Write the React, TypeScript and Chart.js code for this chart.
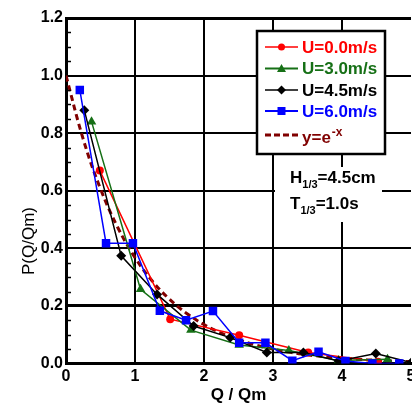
import { useEffect, useRef } from 'react';
import { Chart, registerables } from 'chart.js';

Chart.register(...registerables);

// ---- data ----
const xU00 = [0.49, 1.51, 2.51, 3.51, 4.52];
const yU00 = [0.67, 0.154, 0.098, 0.038, 0.006];

const xU30 = [0.37, 1.08, 1.81, 2.51, 3.23, 3.95, 4.66];
const yU30 = [0.84, 0.258, 0.116, 0.064, 0.045, 0.01, 0.015];

const xU45 = [0.265, 0.8, 1.32, 1.85, 2.38, 2.91, 3.44, 3.95, 4.49, 5.0];
const yU45 = [0.88, 0.374, 0.24, 0.13, 0.09, 0.038, 0.038, 0.009, 0.035, 0.003];

const xU60 = [0.2, 0.58, 0.97, 1.36, 1.74, 2.13, 2.51, 2.89, 3.28, 3.66, 4.05, 4.44, 4.83];
const yU60 = [0.95, 0.418, 0.418, 0.183, 0.15, 0.182, 0.072, 0.072, 0.01, 0.041, 0.009, 0.0, 0.0];

// y = e^-x reference curve (tabulated)
const xExp = [0, 0.25, 0.5, 0.75, 1, 1.25, 1.5, 1.75, 2, 2.25, 2.5, 2.75, 3, 3.25, 3.5, 3.75, 4, 4.25, 4.5, 4.75, 5];
const yExp = [1, 0.7788, 0.6065, 0.4724, 0.3679, 0.2865, 0.2231, 0.1738, 0.1353, 0.1054, 0.0821, 0.0639, 0.0498, 0.0388, 0.0302, 0.0235, 0.0183, 0.0143, 0.0111, 0.0087, 0.0067];

const seriesLabels = ['U=0.0m/s', 'U=3.0m/s', 'U=4.5m/s', 'U=6.0m/s'];
const xTicks = [0, 1, 2, 3, 4, 5];
const yTicks = [0, 0.2, 0.4, 0.6, 0.8, 1.0, 1.2];

const RED = '#ff0000';
const GREEN = '#167016';
const BLACK = '#000000';
const BLUE = '#0000ff';
const MAROON = '#800000';
const FONT = '"Liberation Sans", Arial, sans-serif';

const zip = (xs: number[], ys: number[]) => xs.map((x, i) => ({ x, y: ys[i] }));

function drawMarker(ctx: CanvasRenderingContext2D, style: string, x: number, y: number, r: number, color: string) {
  ctx.save();
  ctx.fillStyle = color;
  ctx.beginPath();
  if (style === 'circle') {
    ctx.arc(x, y, r, 0, Math.PI * 2);
  } else if (style === 'triangle') {
    ctx.moveTo(x, y - r);
    ctx.lineTo(x + r, y + r * 0.75);
    ctx.lineTo(x - r, y + r * 0.75);
    ctx.closePath();
  } else if (style === 'rectRot') {
    ctx.moveTo(x, y - r);
    ctx.lineTo(x + r, y);
    ctx.lineTo(x, y + r);
    ctx.lineTo(x - r, y);
    ctx.closePath();
  } else {
    ctx.rect(x - r, y - r, 2 * r, 2 * r);
  }
  ctx.fill();
  ctx.restore();
}

const overlayPlugin = {
  id: 'overlay',
  beforeDatasetsDraw(chart: any) {
    const ctx: CanvasRenderingContext2D = chart.ctx;
    ctx.save();
    ctx.fillStyle = '#fff';
    ctx.fillRect(275, 167, 107, 55);
    ctx.restore();
  },
  afterDraw(chart: any) {
    const ctx: CanvasRenderingContext2D = chart.ctx;
    const ys = chart.scales.y;
    const area = chart.chartArea;
    ctx.save();
    // minor ticks on y axis (inside)
    ctx.strokeStyle = '#000';
    ctx.lineWidth = 1.5;
    for (let i = 0; i <= 24; i++) {
      if (i % 4 === 0) continue;
      const py = Math.round(ys.getPixelForValue(i * 0.05)) + 0.5;
      ctx.beginPath();
      ctx.moveTo(area.left, py);
      ctx.lineTo(area.left + 5, py);
      ctx.stroke();
    }

    // y axis title
    ctx.save();
    ctx.translate(34, 241);
    ctx.rotate(-Math.PI / 2);
    ctx.fillStyle = '#000';
    ctx.font = `17px ${FONT}`;
    ctx.textAlign = 'center';
    ctx.textBaseline = 'alphabetic';
    ctx.fillText('P(Q/Qm)', 0, 0);
    ctx.restore();

    // legend box
    const bx = 257, by = 31, bw = 128, bh = 123;
    ctx.fillStyle = '#fff';
    ctx.fillRect(bx, by, bw, bh);
    ctx.strokeStyle = '#000';
    ctx.lineWidth = 2.5;
    ctx.strokeRect(bx, by, bw, bh);

    const rows = [
      { label: seriesLabels[0], color: RED, style: 'circle', r: 3.5, lw: 1.5 },
      { label: seriesLabels[1], color: GREEN, style: 'triangle', r: 4.5, lw: 2 },
      { label: seriesLabels[2], color: BLACK, style: 'rectRot', r: 4.5, lw: 1.5 },
      { label: seriesLabels[3], color: BLUE, style: 'rect', r: 4, lw: 2 },
    ];
    const rowY = [47, 68.5, 90, 111];
    rows.forEach((row, i) => {
      const y = rowY[i];
      ctx.strokeStyle = row.color;
      ctx.lineWidth = row.lw;
      ctx.beginPath();
      ctx.moveTo(265, y);
      ctx.lineTo(298, y);
      ctx.stroke();
      drawMarker(ctx, row.style, 281.5, y, row.r, row.color);
      ctx.fillStyle = row.color;
      ctx.font = `bold 17px ${FONT}`;
      ctx.textAlign = 'left';
      ctx.textBaseline = 'middle';
      ctx.fillText(row.label, 302, y + 1);
    });
    // e^-x row
    ctx.strokeStyle = MAROON;
    ctx.lineWidth = 3;
    ctx.setLineDash([6, 3]);
    ctx.beginPath();
    ctx.moveTo(265, 135);
    ctx.lineTo(299, 135);
    ctx.stroke();
    ctx.setLineDash([]);
    ctx.fillStyle = MAROON;
    ctx.font = `bold 17px ${FONT}`;
    ctx.textBaseline = 'alphabetic';
    ctx.textAlign = 'left';
    ctx.fillText('y=e', 302, 143);
    const w = ctx.measureText('y=e').width;
    ctx.font = `bold 12px ${FONT}`;
    ctx.fillText('-x', 302 + w + 1, 136);

    // annotation text
    ctx.fillStyle = '#000';
    const drawSub = (main: string, sub: string, rest: string, x: number, y: number) => {
      ctx.font = `bold 17px ${FONT}`;
      ctx.fillText(main, x, y);
      let cx = x + ctx.measureText(main).width;
      ctx.font = `bold 11px ${FONT}`;
      ctx.fillText(sub, cx, y + 5);
      cx += ctx.measureText(sub).width;
      ctx.font = `bold 17px ${FONT}`;
      ctx.fillText(rest, cx, y);
    };
    drawSub('H', '1/3', '=4.5cm', 290, 183);
    drawSub('T', '1/3', '=1.0s', 290, 208.5);
    ctx.restore();
  },
};

export default function App() {
  const ref = useRef<HTMLCanvasElement>(null);
  useEffect(() => {
    document.body.style.margin = '0';
    const canvas = ref.current!;
    const near = (a: number, b: number) => Math.abs(a - b) < 1e-6;
    const chart = new Chart(canvas, {
      type: 'scatter',
      data: {
        datasets: [
          {
            label: seriesLabels[3],
            data: zip(xU60, yU60),
            showLine: true,
            borderColor: BLUE,
            backgroundColor: BLUE,
            borderWidth: 1.5,
            pointStyle: 'rect',
            pointRadius: 6,
            pointBorderWidth: 0,
            order: 1,
          },
          {
            label: seriesLabels[2],
            data: zip(xU45, yU45),
            showLine: true,
            borderColor: BLACK,
            backgroundColor: BLACK,
            borderWidth: 1.5,
            pointStyle: 'rectRot',
            pointRadius: 5,
            pointBorderWidth: 0,
            order: 2,
          },
          {
            label: seriesLabels[1],
            data: zip(xU30, yU30),
            showLine: true,
            borderColor: GREEN,
            backgroundColor: GREEN,
            borderWidth: 1.5,
            pointStyle: 'triangle',
            pointRadius: 5.5,
            pointBorderWidth: 0,
            order: 3,
          },
          {
            label: seriesLabels[0],
            data: zip(xU00, yU00),
            showLine: true,
            borderColor: RED,
            backgroundColor: RED,
            borderWidth: 1.5,
            pointStyle: 'circle',
            pointRadius: 4,
            pointBorderWidth: 0,
            order: 4,
          },
          {
            label: 'y=e^-x',
            data: zip(xExp, yExp),
            showLine: true,
            borderColor: MAROON,
            backgroundColor: MAROON,
            borderWidth: 3,
            borderDash: [6, 4],
            pointRadius: 0,
            tension: 0.4,
            order: 5,
          },
        ],
      },
      options: {
        responsive: false,
        animation: false,
        devicePixelRatio: 1,
        layout: { autoPadding: false, padding: { top: 18, right: 1, left: 0, bottom: 0 } },
        plugins: {
          legend: { display: false },
          tooltip: { enabled: false },
        },
        scales: {
          x: {
            type: 'linear',
            min: 0,
            max: 5,
            afterBuildTicks: (scale: any) => {
              scale.ticks = xTicks.map((v) => ({ value: v }));
            },
            ticks: {
              color: '#000',
              font: { family: FONT, size: 16, weight: 'bold' },
              padding: 3,
              maxRotation: 0,
              autoSkip: false,
              callback: (v: any) => String(v),
            },
            grid: {
              drawTicks: false,
              color: (c: any) => (c.tick && near(c.tick.value, 5) ? 'rgba(0,0,0,0)' : '#000'),
              lineWidth: 2,
            },
            border: { display: true, color: '#000', width: 3 },
            title: {
              display: true,
              text: 'Q / Qm',
              color: '#000',
              font: { family: FONT, size: 17, weight: 'bold' },
              padding: { top: 3, bottom: 0 },
            },
            afterFit: (scale: any) => {
              scale.height = 42.5;
              scale.paddingLeft = 0;
              scale.paddingRight = 0;
            },
          },
          y: {
            type: 'linear',
            min: 0,
            max: 1.2,
            afterBuildTicks: (scale: any) => {
              scale.ticks = yTicks.map((v) => ({ value: v }));
            },
            ticks: {
              color: '#000',
              font: { family: FONT, size: 16, weight: 'bold' },
              padding: 3,
              autoSkip: false,
              callback: (v: any) => Number(v).toFixed(1),
            },
            grid: {
              drawTicks: false,
              color: '#000',
              lineWidth: (c: any) => (c.tick && (near(c.tick.value, 0.2) || near(c.tick.value, 1.2)) ? 3 : 2),
            },
            border: { display: true, color: '#000', width: 3 },
            afterFit: (scale: any) => {
              scale.width = 66;
              scale.paddingTop = 0;
              scale.paddingBottom = 0;
            },
          },
        },
      },
      plugins: [overlayPlugin],
    } as any);
    return () => chart.destroy();
  }, []);
  return (
    <div style={{ width: 412, height: 406, background: '#fff' }}>
      <canvas ref={ref} width={412} height={406} style={{ display: 'block' }} />
    </div>
  );
}
